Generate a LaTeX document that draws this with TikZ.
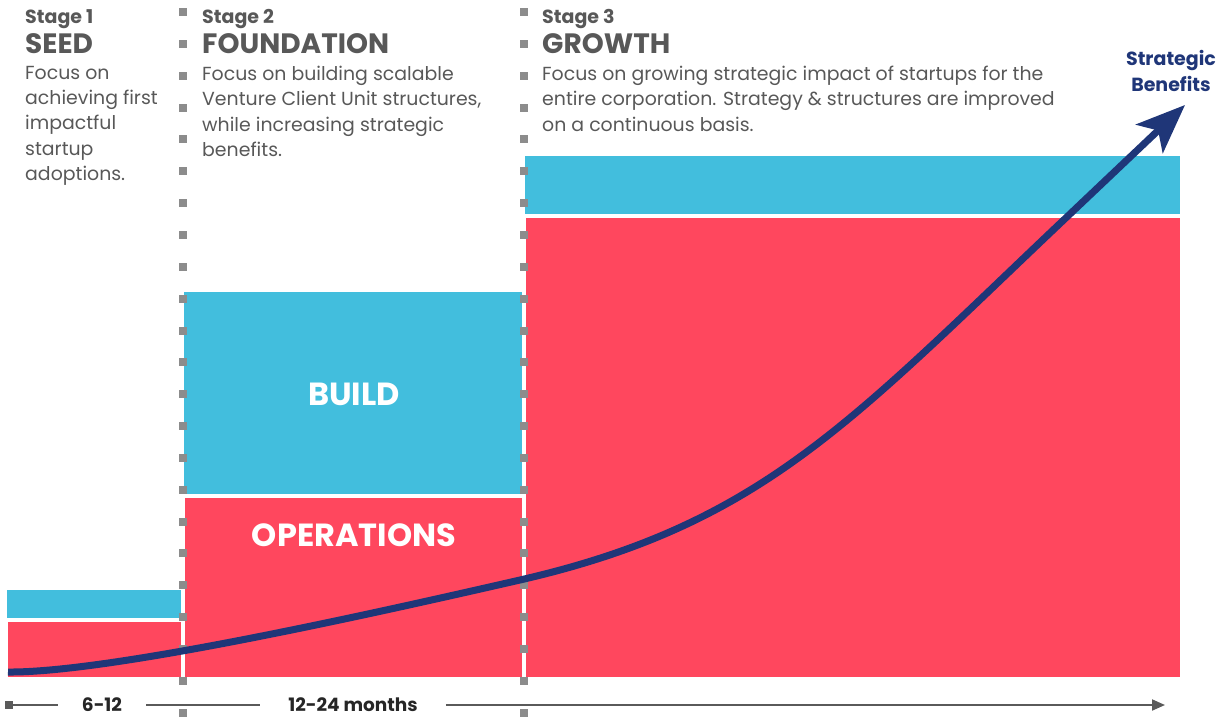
\documentclass[tikz,border=0pt]{standalone}
\usepackage{fontspec}
\setmainfont{Poppins}
\usepackage{xcolor}
\usepackage{tikz}
\usetikzlibrary{positioning, arrows.meta}

\definecolor{stageblue}{HTML}{42BEDD}
\definecolor{stagered}{HTML}{FF475E}
\definecolor{curvenavy}{HTML}{1F3678}
\definecolor{textgrey}{HTML}{585858}
\definecolor{dotgrey}{HTML}{8C8C8C}
\definecolor{axisgrey}{HTML}{5A5A5A}

\tikzset{
    stagelabel/.style={anchor=base west, inner sep=0pt, text=textgrey, font=\fontsize{19}{22}\selectfont\bfseries},
    stagetitle/.style={anchor=base west, inner sep=0pt, text=textgrey, font=\fontsize{28}{32}\selectfont\bfseries},
    stagetext/.style={anchor=north west, inner sep=0pt, text=textgrey, align=left, font=\fontsize{18.9}{25.3}\selectfont},
    blocklabel/.style={text=white, font=\fontsize{32}{34}\selectfont\bfseries},
    axislabel/.style={inner ysep=0pt, text=black!85, font=\fontsize{18.5}{20}\selectfont\bfseries},
}

\begin{document}
\begin{tikzpicture}[x=1pt, y=-1pt]
    \useasboundingbox (0,0) rectangle (1221,718);

    % blue and red blocks of each stage
    \foreach \xa/\xb/\yb/\yr in {7/181/590/622, 184/522/292/498, 525/1180/156/218} {
        \fill[stageblue] (\xa,\yb) rectangle (\xb,\yr-4);
        \fill[stagered] (\xa+1,\yr) rectangle (\xb,677);
    }
    \node[blocklabel] (build) at (354,394) {BUILD};
    \node[blocklabel] (operations) at (354,535) {OPERATIONS};

    % dotted stage borders
    \foreach \x in {183,524} {
        \foreach \k in {0,...,22}
            \fill[dotgrey] (\x-4,{12+31.85*\k-4}) rectangle ++(8,8);
    }

    % stage headings
    \foreach \x/\n/\title in {25/1/SEED, 202/2/FOUNDATION, 542/3/GROWTH} {
        \node[stagelabel] (stage\n) at (\x,23) {Stage \n};
        \node[stagetitle] (title\n) at (\x,53) {\title};
    }
    \node[stagetext] (text1) at (25,66) {Focus on\\achieving first\\impactful\\startup\\adoptions.};
    \node[stagetext] (text2) at (202,66) {Focus on building scalable\\Venture Client Unit structures,\\while increasing strategic\\benefits.};
    \node[stagetext] (text3) at (542,66) {Focus on growing strategic impact of startups for the\\entire corporation. Strategy \& structures are improved\\on a continuous basis.};

    % benefit curve
    \coordinate (low) at (8,672);
    \coordinate (mid) at (520,580);
    \coordinate (high) at (1070,214);
    \coordinate (tip) at (1185,105);
    \draw[curvenavy, line width=7pt, -{Stealth[length=49pt, width=39pt, inset=12pt]}]
        (low) .. controls (110,673) and (380,612) .. (mid)
              .. controls (764,524) and (852,420) .. (high) -- (tip);
    \node[align=center, text=curvenavy, font=\fontsize{19}{26}\selectfont\bfseries] (benefits) at (1171,71) {Strategic\\Benefits};

    % time axis
    \node[fill=axisgrey, inner sep=0pt, minimum size=8pt] (start) at (9,705) {};
    \node[axislabel, inner xsep=24pt] (short) at (102,705) {6-12};
    \node[axislabel, inner xsep=28pt] (long) at (353,705) {12-24 months};
    \coordinate (end) at (1165,705);
    \draw[axisgrey, line width=2pt] (start) -- (short);
    \draw[axisgrey, line width=2pt] (short) -- (long);
    \draw[axisgrey, line width=2pt, -{Triangle[length=13pt, width=11pt]}] (long) -- (end);
\end{tikzpicture}
\end{document}
